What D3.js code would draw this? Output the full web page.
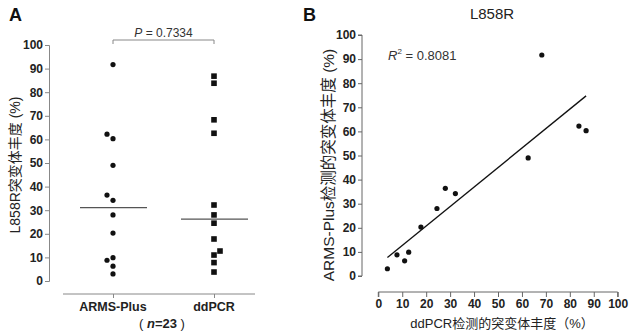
<!DOCTYPE html>
<html><head><meta charset="utf-8">
<script src="https://cdn.jsdelivr.net/npm/d3@7"></script>
<style>
html,body{margin:0;padding:0;background:#fff;}
svg{display:block;font-family:"Liberation Sans",Arial,"Noto Sans CJK SC",sans-serif;}
</style></head>
<body>
<svg id="chart" width="640" height="335"></svg>
<script>
// ---- data ----
const categories = ["ARMS-Plus", "ddPCR"];
const armsValues = [91.7, 62.2, 60.3, 49.0, 36.4, 34.2, 28.0, 20.3, 8.8, 9.9, 6.3, 3.0];
const armsJitter = [0, -1, 0, 0, -1, 0, 0, 0, -1, 0, 0, 0];
const ddpcrValues = [86.8, 83.8, 68.3, 62.6, 32.2, 28.0, 24.5, 17.8, 11.0, 12.7, 7.8, 3.8];
const ddpcrJitter = [0, 0, 0, 0, 0, 0, 0, 0, 0, 1, 0, 0];
// paired points for panel B (x = ddPCR, y = ARMS-Plus)
const pairX = [3.8, 7.8, 11.0, 12.7, 17.8, 24.5, 28.0, 32.2, 62.6, 68.3, 83.8, 86.8];
const pairY = [3.0, 8.8, 6.3, 9.9, 20.3, 28.0, 36.4, 34.2, 49.0, 91.7, 62.2, 60.3];
const yTicks = [0, 10, 20, 30, 40, 50, 60, 70, 80, 90, 100];
const xTicksB = [0, 10, 20, 30, 40, 50, 60, 70, 80, 90, 100];
const pText = "0.7334";
const r2Text = "0.8081";
const nText = "23";

const svg = d3.select("#chart");
const CJK = '"Liberation Sans",Arial,"Noto Sans CJK SC",sans-serif';

// ================= Panel A =================
const yA = d3.scaleLinear().domain([0, 100]).range([281, 45]);
const xA = d3.scalePoint().domain(categories).range([113, 214]);
const jitA = d3.scaleLinear().domain([-1, 1]).range([-6, 6]);

const gA = svg.append("g");
const yAxisA = gA.append("g").attr("transform", "translate(49,0)")
  .call(d3.axisLeft(yA).tickValues(yTicks).tickSize(4).tickPadding(2));
const xAxisA = gA.append("g").attr("transform", "translate(0,294)")
  .call(d3.axisBottom(xA).tickSize(4).tickPadding(4).tickFormat(() => ""));
xAxisA.select(".domain").attr("d", "M63,0H255");
[yAxisA, xAxisA].forEach(ax => {
  ax.select(".domain").attr("stroke", "#888").attr("stroke-width", 1);
  ax.selectAll(".tick line").attr("stroke", "#888");
});
yAxisA.selectAll(".tick text").attr("font-size", 12).attr("font-weight", "bold")
  .attr("fill", "#222").attr("font-family", CJK);

gA.selectAll(".cat").data(categories).enter().append("text")
  .attr("x", d => xA(d)).attr("y", 311).attr("text-anchor", "middle")
  .attr("font-size", 12.5).attr("font-weight", "bold").attr("fill", "#222")
  .text(d => d);
const nt = gA.append("text").attr("x", 162).attr("y", 328).attr("text-anchor", "middle")
  .attr("font-size", 13).attr("fill", "#222");
nt.append("tspan").text("( ");
nt.append("tspan").attr("font-style", "italic").attr("font-weight", "bold").text("n");
nt.append("tspan").attr("font-weight", "bold").text("=" + nText);
nt.append("tspan").text(" )");

gA.append("text").attr("transform", "translate(20,165) rotate(-90)")
  .attr("text-anchor", "middle").attr("font-size", 14).attr("fill", "#222")
  .text("L858R突变体丰度 (%)");

gA.selectAll(".pa").data(armsValues).enter().append("circle")
  .attr("cx", (d, i) => xA(categories[0]) + jitA(armsJitter[i]))
  .attr("cy", d => yA(d)).attr("r", 2.6).attr("fill", "#111");
gA.selectAll(".pd").data(ddpcrValues).enter().append("rect")
  .attr("x", (d, i) => xA(categories[1]) + jitA(ddpcrJitter[i]) - 2.8)
  .attr("y", d => yA(d) - 2.8).attr("width", 5.6).attr("height", 5.6).attr("fill", "#111");

const medians = [d3.median(armsValues), d3.median(ddpcrValues)];
gA.selectAll(".med").data(medians).enter().append("line")
  .attr("x1", (d, i) => xA(categories[i]) - 33).attr("x2", (d, i) => xA(categories[i]) + 34)
  .attr("y1", d => yA(d)).attr("y2", d => yA(d))
  .attr("stroke", "#555").attr("stroke-width", 1.2);

const bx1 = xA(categories[0]), bx2 = xA(categories[1]);
gA.append("path").attr("d", `M${bx1},44V40H${bx2}V44`).attr("fill", "none")
  .attr("stroke", "#888").attr("stroke-width", 1);
const pt = gA.append("text").attr("x", (bx1 + bx2) / 2).attr("y", 37).attr("text-anchor", "middle")
  .attr("font-size", 12).attr("fill", "#333");
pt.append("tspan").attr("font-style", "italic").text("P");
pt.append("tspan").text(" = " + pText);

svg.append("text").attr("x", 9).attr("y", 21).attr("font-size", 18).attr("font-weight", "bold")
  .attr("fill", "#111").text("A");

// ================= Panel B =================
const xB = d3.scaleLinear().domain([0, 100]).range([378.3, 617.7]);
const yB = d3.scaleLinear().domain([0, 100]).range([276, 35]);
const gB = svg.append("g");

const yAxisB = gB.append("g").attr("transform", "translate(362,0)")
  .call(d3.axisLeft(yB).tickValues(yTicks).tickSize(4).tickPadding(2));
const xAxisB = gB.append("g").attr("transform", "translate(0,292)")
  .call(d3.axisBottom(xB).tickValues(xTicksB).tickSize(5).tickPadding(2));
[yAxisB, xAxisB].forEach(ax => {
  ax.select(".domain").attr("stroke", "#666").attr("stroke-width", 1);
  ax.selectAll(".tick line").attr("stroke", "#666");
  ax.selectAll(".tick text").attr("font-size", 12).attr("font-weight", "bold")
    .attr("fill", "#222").attr("font-family", CJK);
});
xAxisB.select(".domain").attr("d", `M${xB(0)},5V0H${xB(100)}V5`);
yAxisB.select(".domain").attr("d", `M-4,${yB(100)}H0V${yB(0)}H-4`);

gB.append("text").attr("x", 492).attr("y", 19).attr("text-anchor", "middle")
  .attr("font-size", 15).attr("fill", "#222").text("L858R");
gB.append("text").attr("transform", "translate(334,165) rotate(-90)")
  .attr("text-anchor", "middle").attr("font-size", 15.5).attr("fill", "#222")
  .text("ARMS-Plus检测的突变体丰度 (%)");
gB.append("text").attr("x", 502).attr("y", 328).attr("text-anchor", "middle")
  .attr("font-size", 13).attr("fill", "#222").text("ddPCR检测的突变体丰度（%）");

const mx = d3.mean(pairX), my = d3.mean(pairY);
let sxy = 0, sxx = 0;
pairX.forEach((x, i) => { sxy += (x - mx) * (pairY[i] - my); sxx += (x - mx) * (x - mx); });
const slope = sxy / sxx, icpt = my - slope * mx;
const [xmin, xmax] = d3.extent(pairX);
gB.append("line")
  .attr("x1", xB(xmin)).attr("y1", yB(icpt + slope * xmin))
  .attr("x2", xB(xmax)).attr("y2", yB(icpt + slope * xmax))
  .attr("stroke", "#111").attr("stroke-width", 1.3);

gB.selectAll(".pb").data(pairX).enter().append("circle")
  .attr("cx", d => xB(d)).attr("cy", (d, i) => yB(pairY[i])).attr("r", 2.6).attr("fill", "#111");

const rt = gB.append("text").attr("x", 388).attr("y", 60).attr("font-size", 13).attr("fill", "#333");
rt.append("tspan").attr("font-style", "italic").text("R");
rt.append("tspan").attr("font-size", 8).attr("dy", -6).text("2");
rt.append("tspan").attr("dy", 6).text(" = " + r2Text);

svg.append("text").attr("x", 303).attr("y", 21).attr("font-size", 18).attr("font-weight", "bold")
  .attr("fill", "#111").text("B");
</script>
</body></html>
